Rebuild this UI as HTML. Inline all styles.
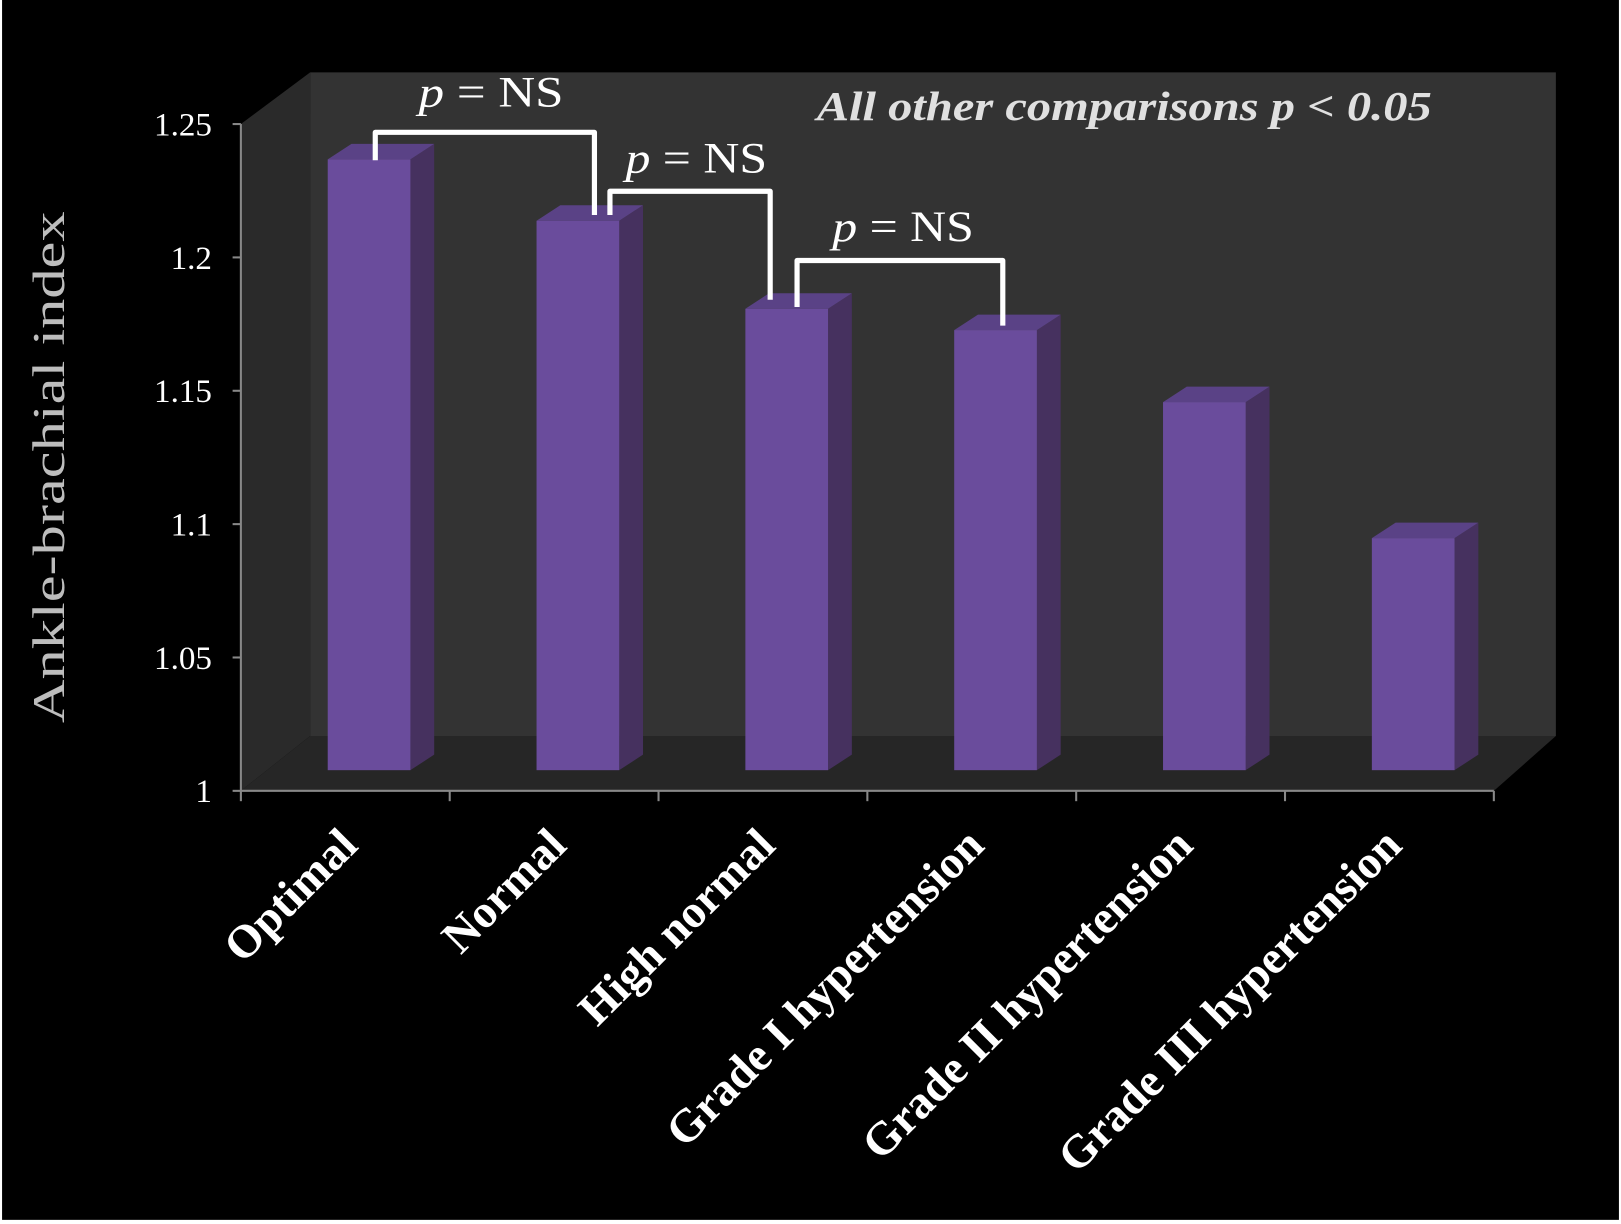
<!DOCTYPE html>
<html><head><meta charset="utf-8"><style>
html,body{margin:0;padding:0;background:#fff;}
svg{display:block;}
text{font-family:"Liberation Serif",serif;}
</style></head><body>
<svg id="chart" width="1621" height="1224" viewBox="0 0 1568 1184" preserveAspectRatio="none" xmlns="http://www.w3.org/2000/svg">
<rect x="2" y="0" width="1564" height="1180" fill="#000"/>
<polygon points="233,120 300,70 300,712 233,765" fill="#2a2a2a"/>
<polygon points="300,70 1505,70 1505,712 300,712" fill="#333"/>
<polygon points="233,765 300,712 1505,712 1445,765" fill="#262626"/>
<line x1="233" y1="120" x2="233" y2="765" stroke="#888" stroke-width="2"/>
<line x1="233" y1="765" x2="1445" y2="765" stroke="#888" stroke-width="2"/>
<g id="ticks"></g><g id="bars"></g><g id="xlabels"></g>
<text transform="translate(62,452) rotate(-90)" text-anchor="middle" fill="#bdbdbd" font-size="44" textLength="495" lengthAdjust="spacingAndGlyphs">Ankle-brachial index</text>
<g fill="none" stroke="#fff" stroke-width="5" stroke-linejoin="round">
<polyline points="363,155 363,128 575,128 575,208"/>
<polyline points="590,208 590,185 745,185 745,290"/>
<polyline points="771,297 771,252 970,252 970,315"/>
</g>
<text x="405" y="103" fill="#fff" font-size="42" textLength="140" lengthAdjust="spacingAndGlyphs"><tspan font-style="italic">p</tspan> = NS</text>
<text x="605" y="167" fill="#fff" font-size="42" textLength="137" lengthAdjust="spacingAndGlyphs"><tspan font-style="italic">p</tspan> = NS</text>
<text x="805" y="233" fill="#fff" font-size="42" textLength="137" lengthAdjust="spacingAndGlyphs"><tspan font-style="italic">p</tspan> = NS</text>
<text x="790" y="116" fill="#e0e0e0" font-size="40" font-style="italic" font-weight="bold" textLength="595" lengthAdjust="spacingAndGlyphs">All other comparisons p &lt; 0.05</text>
</svg>
<script>
const categories = ["Optimal","Normal","High normal","Grade I hypertension","Grade II hypertension","Grade III hypertension"];
const values = [1.229, 1.206, 1.173, 1.165, 1.138, 1.087];
const tickValues = [1, 1.05, 1.1, 1.15, 1.2, 1.25];
const tickLabels = ["1","1.05","1.1","1.15","1.2","1.25"];
const NS = "http://www.w3.org/2000/svg";
const yMin = 1, yMax = 1.25, yBottom = 765, yTop = 120;
function yScale(v){ return yBottom - (v - yMin) / (yMax - yMin) * (yBottom - yTop); }
const x0 = 233, slot = 202;
function xSlot(i){ return x0 + i * slot; }
function mk(tag, attrs, parent){ const e = document.createElementNS(NS, tag); for (const k in attrs) e.setAttribute(k, attrs[k]); parent.appendChild(e); return e; }
const ticks = document.getElementById('ticks');
tickValues.forEach((v, i) => {
  const y = yScale(v);
  const t = mk('line', {x1: 225, x2: 233, y1: y, y2: y, stroke: '#888', 'stroke-width': 2}, ticks);
  
  
  const l = mk('text', {x: 205, y: y + 11, 'text-anchor': 'end', fill: '#fff', 'font-size': 32}, ticks);
  l.textContent = tickLabels[i];
  
  
});
for (let i = 0; i <= categories.length; i++) {
  const x = xSlot(i);
  const t = mk('line', {x1: x, x2: x, y1: 765, y2: 775, stroke: '#888', 'stroke-width': 2}, ticks);
  
  
}
const bars = document.getElementById('bars');
const xl = document.getElementById('xlabels');
const barW = 80, dx = 23, dy = 15, base = 745, shift = 20;
values.forEach((v, i) => {
  const left = xSlot(i) + 84;
  const top = yScale(v) - shift;
  const g = mk('g', {}, bars);
  
  
  mk('polygon', {points: `${left+barW},${top} ${left+barW+dx},${top-dy} ${left+barW+dx},${base-dy} ${left+barW},${base}`, fill: '#46315f'}, g);
  mk('polygon', {points: `${left},${top} ${left+dx},${top-dy} ${left+barW+dx},${top-dy} ${left+barW},${top}`, fill: '#5a4286'}, g);
  mk('rect', {x: left, y: top, width: barW, height: base - top, fill: '#6a4c9c'}, g);
  const lx = xSlot(i) + 115, ly = 820;
  const t = mk('text', {x: lx, y: ly, 'text-anchor': 'end', fill: '#fff', 'font-size': 45, 'font-weight': 'bold', transform: `rotate(-45 ${lx} ${ly})`}, xl);
  t.textContent = categories[i];
  
  
});
</script>
</body></html>
